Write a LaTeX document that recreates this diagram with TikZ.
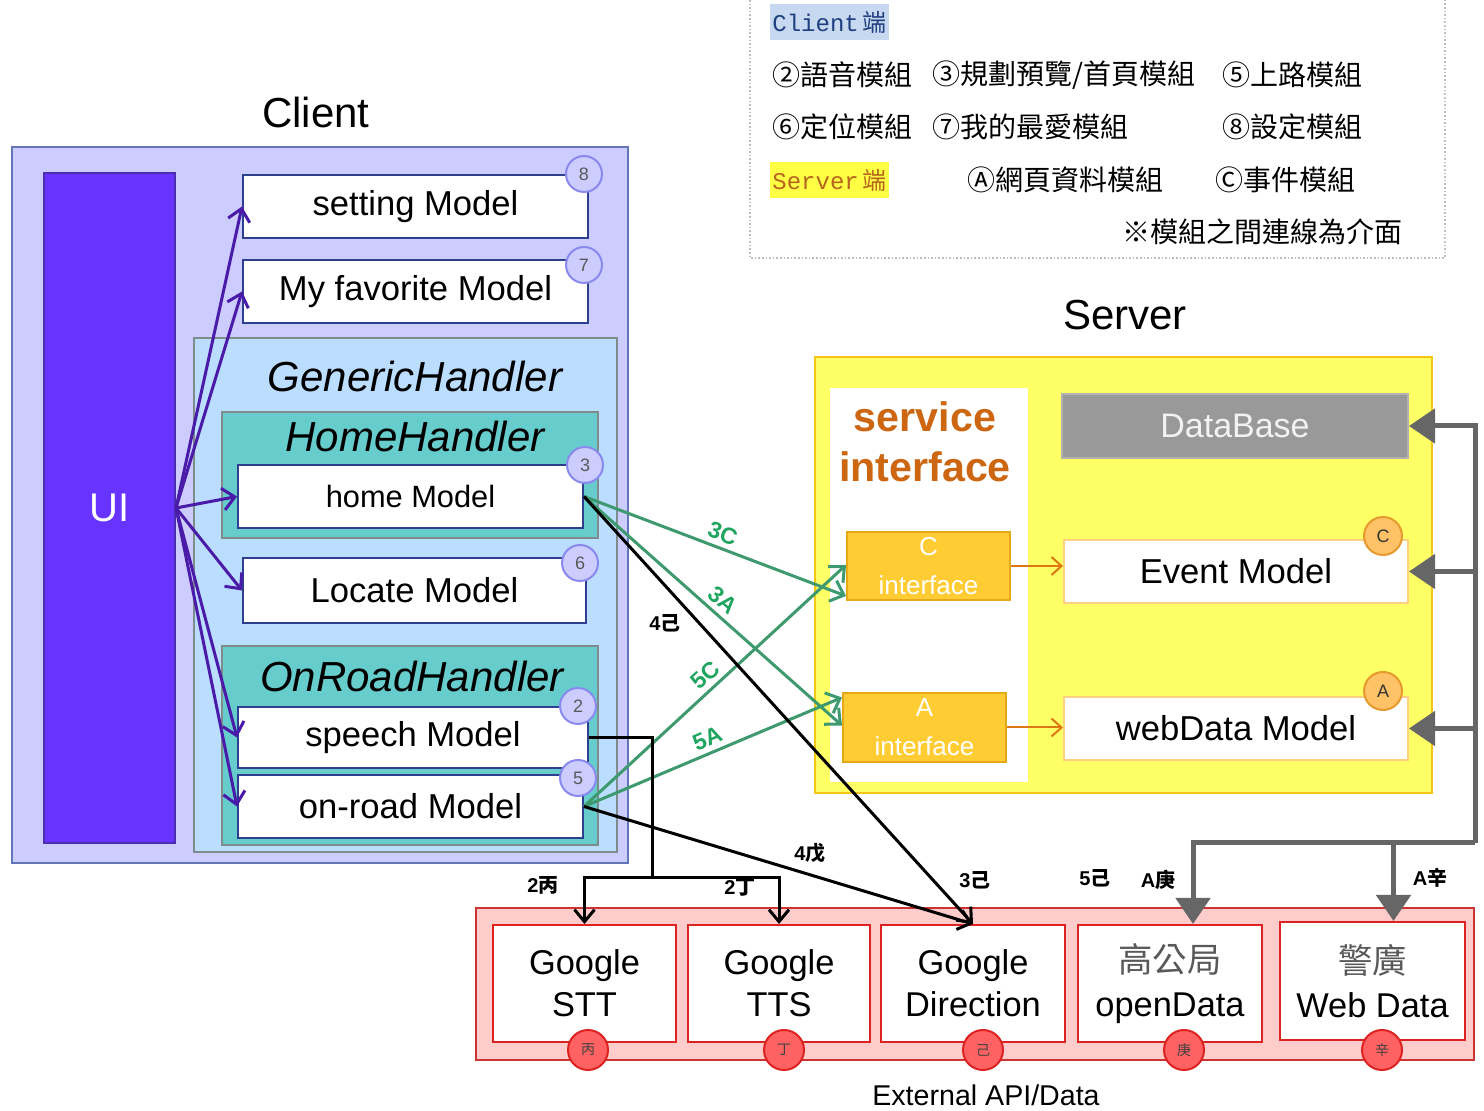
\documentclass[tikz,border=0pt]{standalone}
\usepackage{fontspec}
\setmainfont{Liberation Sans}
\setmonofont{Liberation Mono}
\newfontfamily\cjk{Noto Sans CJK TC}
\usetikzlibrary{arrows.meta,calc,fit,positioning}

\definecolor{clientfill}{HTML}{CCCCFF}
\definecolor{clientline}{HTML}{6475BC}
\definecolor{uifill}{HTML}{6633FF}
\definecolor{uiline}{HTML}{4B2DB0}
\definecolor{modelline}{HTML}{2F3F8F}
\definecolor{badgeline}{HTML}{8A8AEE}
\definecolor{genericfill}{HTML}{BBDDFF}
\definecolor{handlerfill}{HTML}{66CCCC}
\definecolor{handlerline}{HTML}{7F8C8C}
\definecolor{uiarrowc}{HTML}{4A1AA8}
\definecolor{greenline}{HTML}{3E9A6E}
\definecolor{greentext}{HTML}{1FA55F}
\definecolor{serverfill}{HTML}{FFFF66}
\definecolor{serverline}{HTML}{F5C518}
\definecolor{servicetext}{HTML}{CC6611}
\definecolor{iffill}{HTML}{FFCC33}
\definecolor{ifline}{HTML}{E6A817}
\definecolor{eventline}{HTML}{FFD080}
\definecolor{orangebadge}{HTML}{FFC266}
\definecolor{orangeline}{HTML}{E69A2E}
\definecolor{orangearrowc}{HTML}{DD7711}
\definecolor{dbfill}{HTML}{999999}
\definecolor{busgray}{HTML}{666666}
\definecolor{extfill}{HTML}{FFCCCC}
\definecolor{extline}{HTML}{CC3333}
\definecolor{redbadge}{HTML}{FF6262}
\definecolor{redline}{HTML}{DD2222}
\definecolor{clienttag}{HTML}{C6D9F1}
\definecolor{clienttagtext}{HTML}{1F3F7F}
\definecolor{servertag}{HTML}{FFFF44}
\definecolor{servertagtext}{HTML}{B5651D}

\tikzset{
    %Define style for boxes
    panel/.style={
        inner sep=0pt,
        line width=1pt,
    },
    model/.style={
        panel,
        draw=modelline,
        fill=white,
        minimum width=172.5pt,
        minimum height=31.5pt,
        font=\fontsize{17.3}{21}\selectfont,
    },
    handler/.style={
        panel,
        draw=handlerline,
        fill=handlerfill,
    },
    heading/.style={
        font=\fontsize{21}{25}\selectfont\itshape,
    },
    badge/.style={
        circle,
        draw=badgeline,
        fill=clientfill,
        line width=1pt,
        minimum size=18pt,
        inner sep=0pt,
        text=black!65,
        font=\fontsize{9}{10}\selectfont,
    },
    obadge/.style={
        badge,
        draw=orangeline,
        fill=orangebadge,
        minimum size=19pt,
        text=black!80,
    },
    rbadge/.style={
        badge,
        draw=redline,
        fill=redbadge,
        minimum size=20pt,
        text=black!75,
        font=\fontsize{7}{8}\selectfont\cjk,
    },
    ifbox/.style={
        panel,
        draw=ifline,
        fill=iffill,
        text=white,
        align=center,
        minimum width=81.5pt,
        minimum height=34pt,
        font=\fontsize{13}{19.5}\selectfont,
    },
    srvmodel/.style={
        panel,
        draw=eventline,
        fill=white,
        minimum width=172pt,
        minimum height=31.5pt,
        font=\fontsize{17.3}{21}\selectfont,
    },
    extbox/.style={
        panel,
        draw=redline,
        fill=white,
        align=center,
        minimum width=91.5pt,
        minimum height=58.5pt,
        font=\fontsize{17.2}{21}\selectfont,
    },
    title/.style={
        font=\fontsize{21}{25}\selectfont,
    },
    legend/.style={
        anchor=west,
        inner sep=0pt,
        font=\fontsize{14}{16}\selectfont\cjk,
    },
    tag/.style={
        anchor=west,
        inner xsep=1pt,
        minimum height=17.5pt,
        font=\fontsize{12}{14}\selectfont\ttfamily,
    },
    glabel/.style={
        sloped,
        above=1.5pt,
        inner sep=1pt,
        text=greentext,
        font=\fontsize{11.5}{13}\selectfont\bfseries,
    },
    blabel/.style={
        inner sep=0pt,
        font=\fontsize{10}{12}\selectfont\bfseries,
    },
    uiarrow/.style={
        draw=uiarrowc,
        line width=1.5pt,
        -{Straight Barb[length=6pt,width=11pt]},
    },
    greenarrow/.style={
        draw=greenline,
        line width=1.5pt,
        -{Straight Barb[length=6pt,width=11pt]},
    },
    blackarrow/.style={
        draw=black,
        line width=1.5pt,
        -{Straight Barb[length=6pt,width=10pt]},
    },
    orangearrow/.style={
        draw=orangearrowc,
        line width=1pt,
        -{Straight Barb[length=5pt,width=9pt]},
    },
    busarrow/.style={
        draw=busgray,
        line width=2.5pt,
        -{Triangle[length=13pt,width=17pt]},
    },
}

\begin{document}
\begin{tikzpicture}[x=0.5pt,y=-0.5pt]
\useasboundingbox (0,0) rectangle (1484,1111);

% legend
\draw[black!25, densely dotted, line width=0.8pt] (750,0) -- (750,258) -- (1445,258) -- (1445,0);
\node[tag, fill=clienttag, text=clienttagtext] (clienttag) at (770,22) {Client\,{\cjk 端}};
\node[tag, fill=servertag, text=servertagtext] (servertag) at (770,180) {Server\,{\cjk 端}};
\node[legend] (leg2) at (772,75) {②語音模組};
\node[legend] (leg3) at (932,75) {③規劃預覽/首頁模組};
\node[legend] (leg5) at (1222,75) {⑤上路模組};
\node[legend] (leg6) at (772,127) {⑥定位模組};
\node[legend] (leg7) at (932,127) {⑦我的最愛模組};
\node[legend] (leg8) at (1222,127) {⑧設定模組};
\node[legend] (legA) at (967,180) {Ⓐ網頁資料模組};
\node[legend] (legC) at (1215,180) {Ⓒ事件模組};
\node[legend] (legnote) at (1122,232) {※模組之間連線為介面};

% client side
\node[title] (clienttitle) at (316,112) {Client};
\node[panel, draw=clientline, fill=clientfill, fit={(12,147) (628,863)}] (client) {};
\node[panel, draw=uiline, fill=uifill, text=white, font=\fontsize{20}{24}\selectfont,
      minimum width=65.5pt, minimum height=335pt] (ui) at (109.5,508) {UI};
\node[model] (setting) at (415.5,206.5) {setting Model};
\node[model] (favorite) at (415.5,291.5) {My favorite Model};
\node[panel, draw=handlerline, fill=genericfill, fit={(194,338) (617,852)}] (generic) {};
\node[heading] (generictitle) at (415,377) {GenericHandler};
\node[handler, fit={(222,412) (598,538)}] (homeh) {};
\node[heading] (homehtitle) at (415,437) {HomeHandler};
\node[model, font=\fontsize{15.4}{18}\selectfont] (home) at (410.5,496.5) {home Model};
\node[model, minimum width=171.5pt, minimum height=32.5pt] (locate) at (414.5,590.5) {Locate Model};
\node[handler, fit={(222,646) (598,845)}] (onroadh) {};
\node[heading] (onroadhtitle) at (412,677) {OnRoadHandler};
\node[model, minimum width=175pt, minimum height=30.5pt] (speech) at (413,737.5) {speech Model};
\node[model] (onroadm) at (410.5,806.5) {on-road Model};

\node[badge] (b8) at (584,174) {8};
\node[badge] (b7) at (584,265) {7};
\node[badge] (b3) at (585,465) {3};
\node[badge] (b6) at (580,563) {6};
\node[badge] (b2) at (578,706) {2};
\node[badge] (b5) at (578,778) {5};

% server side
\node[title] (servertitle) at (1125,315) {Server};
\node[panel, draw=serverline, fill=serverfill, fit={(815,357) (1432,793)}] (server) {};
\node[panel, fill=white, fit={(830,388) (1028,782)}] (service) {};
\node[align=center, text=servicetext, font=\fontsize{20.6}{25}\selectfont\bfseries] (servicetitle)
      at (925,442) {service\\interface};
\node[panel, draw=black!30, fill=dbfill, text=black!5, font=\fontsize{17}{20}\selectfont,
      minimum width=173pt, minimum height=32pt] (db) at (1235,426) {DataBase};
\node[ifbox] (cif) at (928.5,566) {C\\interface};
\node[ifbox, minimum height=34.5pt] (aif) at (924.5,727.5) {A\\interface};
\node[srvmodel] (event) at (1236,571.5) {Event Model};
\node[srvmodel] (webdata) at (1236,728.5) {webData Model};
\node[obadge] (bC) at (1383,536) {C};
\node[obadge] (bA) at (1383,691) {A};

% external
\node[panel, draw=extline, fill=extfill, fit={(476,908) (1474,1060)}] (ext) {};
\node[extbox] (stt) at (584.5,983.5) {Google\\STT};
\node[extbox, minimum width=91pt] (tts) at (779,983.5) {Google\\TTS};
\node[extbox, minimum width=92pt] (dir) at (973,983.5) {Google\\Direction};
\node[extbox, minimum width=92pt, font=\fontsize{17.2}{22}\selectfont] (gao) at (1170,983.5)
      {{\color{black!65}\cjk 高公局}\\openData};
\node[extbox, minimum width=92.5pt, minimum height=59pt, font=\fontsize{17.2}{22}\selectfont] (police)
      at (1372.5,981) {{\color{black!65}\cjk 警廣}\\Web Data};
\node[rbadge] (r1) at (588,1050) {丙};
\node[rbadge] (r2) at (784,1050) {丁};
\node[rbadge] (r3) at (983,1050) {己};
\node[rbadge] (r4) at (1184,1050) {庚};
\node[rbadge] (r5) at (1382,1050) {辛};
\node[font=\fontsize{14.3}{17}\selectfont] (exttitle) at (986,1095) {External API/Data};

% UI to models
\foreach \m in {setting,favorite,home,locate,speech,onroadm}
    \draw[uiarrow] (ui.east) -- (\m.west);

% interfaces
\draw[greenarrow] (home.east) -- node[glabel, pos=0.51] {3C} ($(cif.west)+(0,30)$);
\draw[greenarrow] (home.east) -- node[glabel, pos=0.5] {3A} ($(aif.west)+(0,-2)$);
\draw[greenarrow] (onroadm.east) -- node[glabel, pos=0.5] {5C} ($(cif.west)+(0,-1)$);
\draw[greenarrow] (onroadm.east) -- node[glabel, pos=0.5] {5A} ($(aif.west)+(0,-30)$);
\draw[orangearrow] (cif.east) -- (cif.east -| event.west);
\draw[orangearrow] (aif.east) -- (aif.east -| webdata.west);

% external calls
\draw[blackarrow] (home.east) -- (dir.north);
\draw[blackarrow] (onroadm.east) -- (dir.north);
\coordinate (split) at (652,878);
\draw[black, line width=1.5pt] (speech.east) -| (split);
\draw[blackarrow] (split) -| (stt.north);
\draw[blackarrow] (split) -| (tts.north);

\coordinate (bus) at (1475,843);
\draw[busarrow] (bus) |- (db.east);
\draw[busarrow] (bus) |- (event.east);
\draw[busarrow] (bus) |- (webdata.east);
\draw[busarrow] (bus) -| ($(gao.north)+(23,0)$);
\draw[busarrow] (bus) -| ($(police.north)+(21,0)$);

\node[blabel] (l4ji) at (665,623) {4{\cjk 己}};
\node[blabel] (l4wu) at (810,853) {4{\cjk 戊}};
\node[blabel] (l3ji) at (975,880) {3{\cjk 己}};
\node[blabel] (l5ji) at (1095,878) {5{\cjk 己}};
\node[blabel] (lageng) at (1158,880) {A{\cjk 庚}};
\node[blabel] (laxin) at (1430,878) {A{\cjk 辛}};
\node[blabel] (l2bing) at (543,885) {2{\cjk 丙}};
\node[blabel] (l2ding) at (740,888) {2{\cjk 丁}};
\end{tikzpicture}
\end{document}
